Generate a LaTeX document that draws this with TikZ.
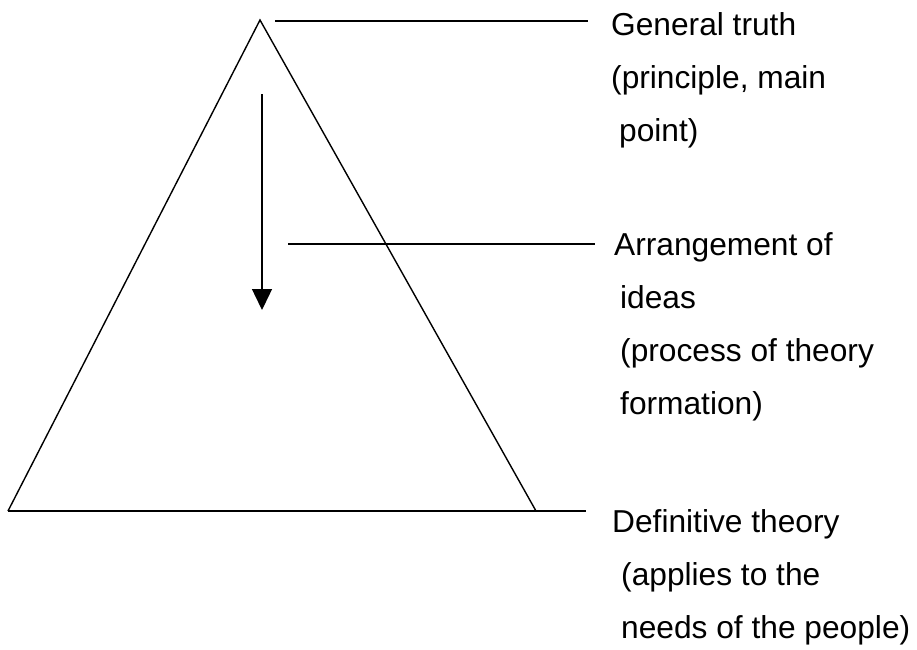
\documentclass[tikz,border=0pt]{standalone}
\usepackage{fontspec}
\setmainfont{Liberation Sans}
\usetikzlibrary{arrows.meta}
\tikzset{
  ln/.style={line width=1.4pt, black},
  lbl/.style={anchor=base west, inner sep=0pt, font=\fontsize{31.7}{36}\selectfont},
}
\begin{document}
\begin{tikzpicture}[x=1pt,y=-1pt]
\useasboundingbox (0,0) rectangle (917,649);
% triangle
\coordinate (apex) at (260,20);
\coordinate (bl) at (8,511);
\coordinate (br) at (536,511);
\draw[ln, line join=miter] (bl) -- (apex) -- (br);
% leader lines
\coordinate (t1) at (275,21);
\coordinate (t2) at (588,21);
\coordinate (m1) at (288,244);
\coordinate (m2) at (595,244);
\coordinate (b2) at (586,511);
\draw[ln] (t1) -- (t2);
\draw[ln] (m1) -- (m2);
\draw[ln] (bl) -- (b2);
% arrow
\coordinate (a1) at (262,94);
\coordinate (a2) at (262,310);
\draw[ln, -{Triangle[width=20pt,length=21pt]}] (a1) -- (a2);
% labels
\node[lbl] (g1) at (611,35) {General truth};
\node[lbl] (g2) at (611,88) {(principle, main};
\node[lbl] (g3) at (619,141) {point)};
\node[lbl] (r1) at (614,255) {Arrangement of};
\node[lbl] (r2) at (620,308) {ideas};
\node[lbl] (r3) at (620,361) {(process of theory};
\node[lbl] (r4) at (620,414) {formation)};
\node[lbl] (d1) at (612,532) {Definitive theory};
\node[lbl] (d2) at (621,585) {(applies to the};
\node[lbl] (d3) at (621,638) {needs of the people)};
\end{tikzpicture}
\end{document}
